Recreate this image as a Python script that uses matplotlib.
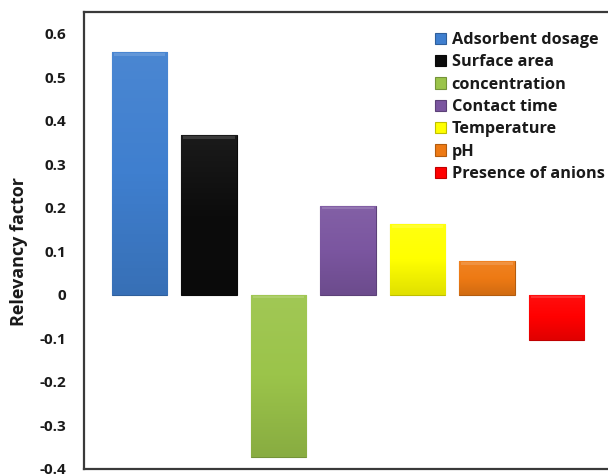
import numpy as np
import matplotlib
matplotlib.use("Agg")
import matplotlib.pyplot as plt
from matplotlib.colors import LinearSegmentedColormap, to_rgb

factors = ["Adsorbent dosage", "Surface area", "concentration", "Contact time",
           "Temperature", "pH", "Presence of anions"]
relevancy = [0.557, 0.367, -0.372, 0.205, 0.162, 0.077, -0.104]
colors = ["#3f7fcf", "#0c0c0c", "#9bc44a", "#7b56a0", "#ffff00", "#ee7a14", "#ff0000"]
yticks = [-0.4, -0.3, -0.2, -0.1, 0, 0.1, 0.2, 0.3, 0.4, 0.5, 0.6]
ytick_labels = ["-0.4", "-0.3", "-0.2", "-0.1", "0", "0.1", "0.2", "0.3", "0.4", "0.5", "0.6"]

plt.rcParams["font.family"] = ["Open Sans", "DejaVu Sans"]
plt.rcParams["font.weight"] = "bold"

fig = plt.figure(figsize=(6.08, 4.74), dpi=100)
ax = fig.add_axes([84 / 608, 5 / 474, 528 / 608, 457 / 474])


def shade(c, f):
    r = np.array(to_rgb(c))
    if f >= 0:
        return tuple(r + (1 - r) * f)
    return tuple(r * (1 + f))


for i, (lab, val, col) in enumerate(zip(factors, relevancy, colors)):
    bars = ax.bar(i, val, width=0.8, color=col, label=lab,
                  edgecolor=shade(col, -0.25), linewidth=0.8, zorder=2)
    p = bars[0]
    x0, y0 = p.get_x(), p.get_y()
    w, h = p.get_width(), p.get_height()
    ylo, yhi = min(y0, y0 + h), max(y0, y0 + h)
    cmap = LinearSegmentedColormap.from_list(
        "g", [shade(col, -0.12), col, shade(col, 0.06)])
    grad = np.linspace(0, 1, 64).reshape(-1, 1)
    im = ax.imshow(grad, cmap=cmap, aspect="auto", origin="lower",
                   extent=[x0, x0 + w, ylo, yhi], zorder=2.5)
    im.set_clip_path(p)
    # bevelled rim along the bar top
    ax.add_patch(plt.Rectangle((x0 + 0.03, yhi - 0.008), w - 0.06, 0.006,
                               color=shade(col, 0.25), lw=0, zorder=2.6, alpha=0.7))

ax.set_xlim(-0.8, 6.8)
ax.set_ylim(-0.4, 0.65)
ax.set_xticks([])
ax.set_yticks(yticks)
ax.set_yticklabels(ytick_labels)
ax.tick_params(axis="y", length=0, pad=13, labelsize=11, colors="#1a1a1a")
for s in ax.spines.values():
    s.set_linewidth(1.6)
    s.set_color("#3a3a3a")

ax.set_ylabel("Relevancy factor", fontsize=13, fontweight="bold", color="#1a1a1a")
ax.yaxis.set_label_coords(-0.106, 0.477)

leg = ax.legend(loc="upper left", bbox_to_anchor=(0.664, 0.956), frameon=False,
                handlelength=0.7, handleheight=0.7, handletextpad=0.35,
                labelspacing=0.39, fontsize=11.7, borderpad=0, borderaxespad=0)
for t in leg.get_texts():
    t.set_color("#1a1a1a")

fig.savefig("out.png", dpi=100)
